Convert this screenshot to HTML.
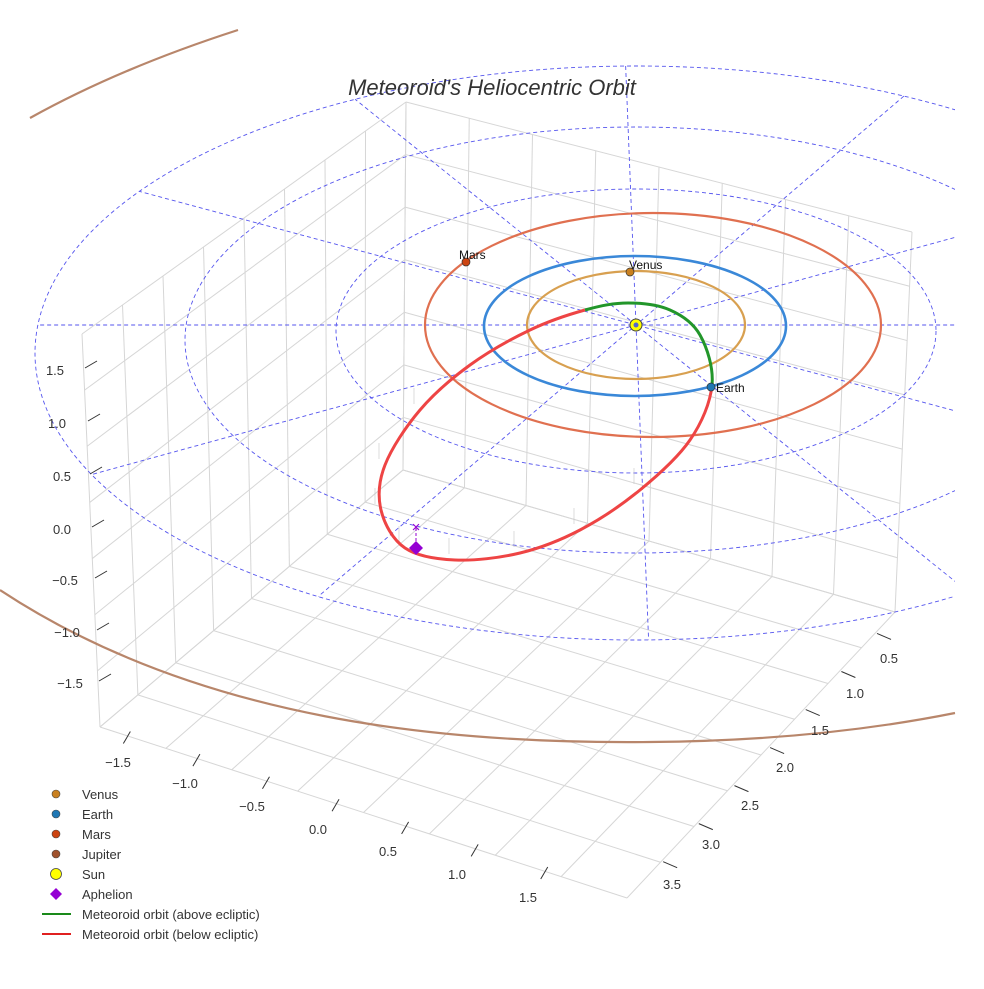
<!DOCTYPE html>
<html><head><meta charset="utf-8"><style>
html,body{margin:0;padding:0;background:#fff;}
svg text{font-family:"Liberation Sans",sans-serif;}
</style></head><body>
<svg id="s" width="984" height="984" viewBox="0 0 984 984" xmlns="http://www.w3.org/2000/svg">
<defs><clipPath id="cp"><rect x="30" y="0" width="925" height="984"/></clipPath></defs>
<rect width="984" height="984" fill="#fff"/>
<g id="grid" stroke="#d6d6d6" stroke-width="1" fill="none"></g>
<g id="dash" stroke="#5555ee" stroke-width="0.9" stroke-dasharray="4,3" fill="none" clip-path="url(#cp)">
<ellipse cx="636" cy="331" rx="300" ry="142"/>
<ellipse cx="636" cy="340" rx="451" ry="213"/>
<ellipse cx="636" cy="353" rx="601" ry="287"/>
</g>
<g fill="none" stroke-width="2.2">
<path d="M30,118 Q120,68 238,30" stroke="#b8866b"/>
<path d="M0,590 C200,722 450,744 650,742 C780,741 880,728 955,713" stroke="#b8866b"/>
<ellipse cx="653" cy="325" rx="228" ry="112" stroke="#e07050"/>
<ellipse cx="635" cy="326" rx="151" ry="70" stroke="#3a88d8" stroke-width="2.6"/>
<ellipse cx="636" cy="325" rx="109" ry="54" stroke="#d8a050"/>
</g>
<g id="stems" stroke="#c4c4c4" stroke-width="0.6"></g>
<path id="red" fill="none" stroke="#ee4444" stroke-width="3"/>
<path id="green" fill="none" stroke="#22962a" stroke-width="3"/>
<line x1="416" y1="528" x2="416" y2="548" stroke="#9400d3" stroke-width="1" stroke-dasharray="3,2"/>
<text x="416" y="532" font-size="15" fill="#9400d3" text-anchor="middle">×</text>
<path d="M416,541 L423,548 L416,555 L409,548Z" fill="#9400d3"/>
<circle cx="636" cy="325" r="6" fill="#ffff00" stroke="#444" stroke-width="1"/>
<circle cx="636" cy="325" r="2.5" fill="#5566cc"/>
<circle cx="630" cy="272" r="4" fill="#c98020" stroke="#333" stroke-width="0.7"/>
<circle cx="711" cy="387" r="4" fill="#1f77b4" stroke="#333" stroke-width="0.7"/>
<circle cx="466" cy="262" r="4" fill="#cc4411" stroke="#333" stroke-width="0.7"/>
<g font-size="12" fill="#111">
<text x="629" y="269">Venus</text><text x="716" y="392">Earth</text><text x="459" y="259">Mars</text>
</g>
<text x="492" y="95" font-size="22" font-style="italic" fill="#333" text-anchor="middle">Meteoroid's Heliocentric Orbit</text>
<g id="ticks" stroke="#333" stroke-width="1"></g>
<g font-size="13" fill="#333" text-anchor="middle">
<text x="55" y="375">1.5</text><text x="57" y="428">1.0</text><text x="62" y="481">0.5</text><text x="62" y="534">0.0</text><text x="65" y="585">−0.5</text><text x="67" y="637">−1.0</text><text x="70" y="688">−1.5</text>
<text x="118" y="767">−1.5</text><text x="185" y="788">−1.0</text><text x="252" y="811">−0.5</text><text x="318" y="834">0.0</text><text x="388" y="856">0.5</text><text x="457" y="879">1.0</text><text x="528" y="902">1.5</text>
<text x="889" y="663">0.5</text><text x="855" y="698">1.0</text><text x="820" y="735">1.5</text><text x="785" y="772">2.0</text><text x="750" y="810">2.5</text><text x="711" y="849">3.0</text><text x="672" y="889">3.5</text>
</g>
<g font-size="13" fill="#333">
<circle cx="56" cy="794" r="4" fill="#c98020" stroke="#444" stroke-width="0.6"/><text x="82" y="799">Venus</text>
<circle cx="56" cy="814" r="4" fill="#1f77b4" stroke="#444" stroke-width="0.6"/><text x="82" y="819">Earth</text>
<circle cx="56" cy="834" r="4" fill="#cc4411" stroke="#444" stroke-width="0.6"/><text x="82" y="839">Mars</text>
<circle cx="56" cy="854" r="4" fill="#a0522d" stroke="#444" stroke-width="0.6"/><text x="82" y="859">Jupiter</text>
<circle cx="56" cy="874" r="5.5" fill="#ffff00" stroke="#444" stroke-width="0.8"/><text x="82" y="879">Sun</text>
<path d="M56,888 L62,894 L56,900 L50,894Z" fill="#9400d3"/><text x="82" y="899">Aphelion</text>
<line x1="42" y1="914" x2="71" y2="914" stroke="#1a8a1a" stroke-width="2"/><text x="82" y="919">Meteoroid orbit (above ecliptic)</text>
<line x1="42" y1="934" x2="71" y2="934" stroke="#e02020" stroke-width="2"/><text x="82" y="939">Meteoroid orbit (below ecliptic)</text>
</g>
</svg>
<script>
(function(){
var NS="http://www.w3.org/2000/svg";
function L(g,a,b,c){var e=document.createElementNS(NS,"line");e.setAttribute("x1",a[0]);e.setAttribute("y1",a[1]);e.setAttribute("x2",b[0]);e.setAttribute("y2",b[1]);if(c)e.setAttribute("stroke",c);document.getElementById(g).appendChild(e);}
function lp(a,b,t){return[a[0]+(b[0]-a[0])*t,a[1]+(b[1]-a[1])*t];}
var FLb=[100,727],FLt=[82,334],BLb=[403,470],BLt=[406,102],BRb=[895,612],BRt=[912,232],FRb=[627,898];
var i,t;
for(i=0;i<=8;i++){t=i/8;L("grid",lp(FLb,BLb,t),lp(FLt,BLt,t));}
for(i=0;i<=7;i++){t=i/7;L("grid",lp(FLb,FLt,t),lp(BLb,BLt,t));}
for(i=0;i<=8;i++){t=i/8;L("grid",lp(BLb,BRb,t),lp(BLt,BRt,t));}
for(i=0;i<=7;i++){t=i/7;L("grid",lp(BLb,BLt,t),lp(BRb,BRt,t));}
for(i=0;i<=8;i++){t=i/8;L("grid",lp(FLb,FRb,t),lp(BLb,BRb,t));}
for(i=0;i<=8;i++){t=i/8;L("grid",lp(FLb,BLb,t),lp(FRb,BRb,t));}
var cx=636,cy=325,E={x:636,y:353,rx:601,ry:287};
function clip(dx,dy){var lo=0,hi=3000;for(var k=0;k<40;k++){var m=(lo+hi)/2;var px=cx+dx*m,py=cy+dy*m;var v=Math.pow((px-E.x)/E.rx,2)+Math.pow((py-E.y)/E.ry,2);if(v<1)lo=m;else hi=m;}return[cx+dx*lo,cy+dy*lo];}
var dirs=[[1,0],[635-137,325-191],[636-90,325-475],[636-356,325-100],[636-320,325-595],[627-636,100-325]];
var dg=document.getElementById("dash");
dirs.forEach(function(d){var n=Math.hypot(d[0],d[1]);var a=clip(d[0]/n,d[1]/n),b=clip(-d[0]/n,-d[1]/n);var e=document.createElementNS(NS,"line");e.setAttribute("x1",a[0]);e.setAttribute("y1",a[1]);e.setAttribute("x2",b[0]);e.setAttribute("y2",b[1]);dg.appendChild(e);});
var zt=[[370,85],[423,88],[476,90],[529,92],[580,95],[632,97],[683,99]];
zt.forEach(function(p){L("ticks",[p[1],p[0]-2],[p[1]+12,p[0]-9]);});
for(i=0;i<7;i++){t=0.05+i*0.132;var p=lp(FLb,FRb,t);L("ticks",[p[0]-3,p[1]+8],[p[0]+4,p[1]-4]);}
for(i=0;i<7;i++){t=0.12+i*0.133;var p=lp(FRb,BRb,t);L("ticks",[p[0]+4,p[1]-2],[p[0]+18,p[1]+4]);}
var pts=[[628,303],[670,310],[700,335],[712,385],[690,440],[640,490],[580,530],[520,553],[455,560],[405,548],[381,510],[385,465],[420,410],[470,365],[530,330],[585,310]];
function path(idx){var n=pts.length,d="";for(var k=0;k<idx.length-1;k++){var p0=pts[(idx[k]-1+n)%n],p1=pts[idx[k]%n],p2=pts[idx[k+1]%n],p3=pts[(idx[k+1]+1)%n];
if(k==0)d+="M"+p1[0]+","+p1[1];
d+=" C"+(p1[0]+(p2[0]-p0[0])/6)+","+(p1[1]+(p2[1]-p0[1])/6)+" "+(p2[0]-(p3[0]-p1[0])/6)+","+(p2[1]-(p3[1]-p1[1])/6)+" "+p2[0]+","+p2[1];}return d;}
document.getElementById("green").setAttribute("d",path([15,0,1,2,3]));
document.getElementById("red").setAttribute("d",path([3,4,5,6,7,8,9,10,11,12,13,14,15]));
for(i=5;i<=12;i++){var p=pts[i];L("stems",[p[0]-6,p[1]-6],[p[0]-6,p[1]-22]);}
})();
</script>
</body></html>
